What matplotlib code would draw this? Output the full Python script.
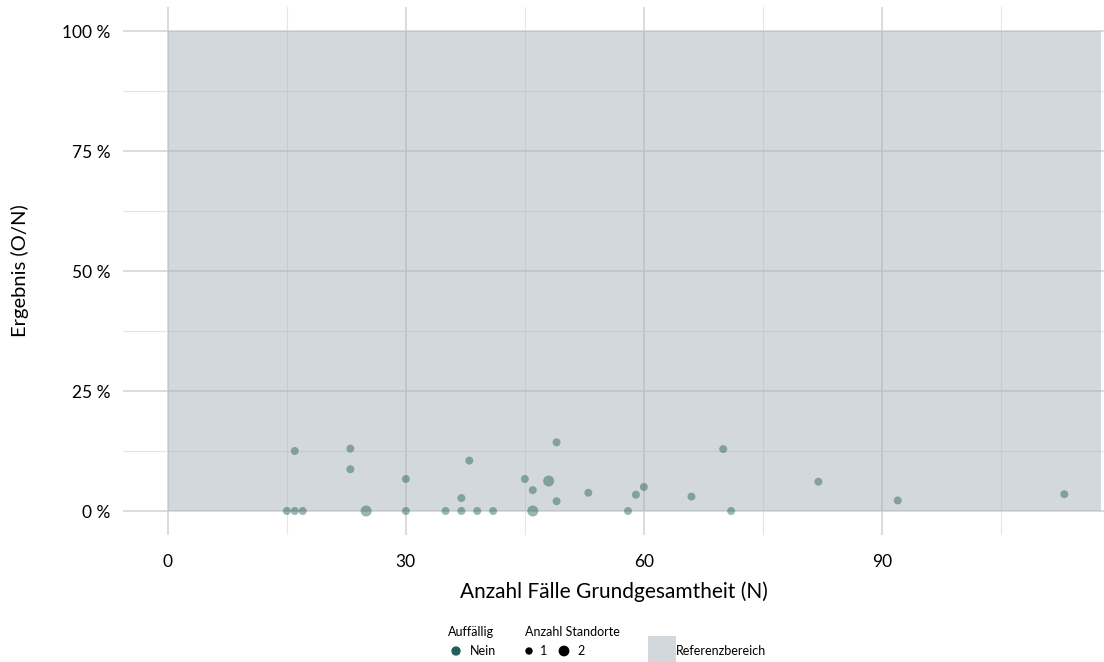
import matplotlib.pyplot as plt
import numpy as np
from matplotlib.patches import Rectangle

plt.rcParams['font.family'] = ['Lato', 'DejaVu Sans']

# data
n_cases = [15, 16, 17, 16, 23, 23, 25, 30, 30, 35, 37, 37, 38, 39, 41, 45, 46, 46,
           48, 49, 49, 53, 58, 59, 60, 66, 70, 71, 82, 92, 113]
result_pct = [0, 0, 0, 12.5, 13.0, 8.7, 0, 6.67, 0, 0, 0, 2.7, 10.5, 0, 0, 6.67, 4.35, 0,
              6.25, 14.3, 2.04, 3.8, 0, 3.4, 5.0, 3.0, 12.9, 0, 6.1, 2.2, 3.5]
standorte = [1, 1, 1, 1, 1, 1, 2, 1, 1, 1, 1, 1, 1, 1, 1, 1, 1, 2,
             2, 1, 1, 1, 1, 1, 1, 1, 1, 1, 1, 1, 1]
ref_low, ref_high = 0, 100
x_ticks = [0, 30, 60, 90]
y_ticks = [0, 25, 50, 75, 100]
y_ticklabels = ['0 %', '25 %', '50 %', '75 %', '100 %']

point_col = '#1f5e5b'
ref_col = '#a8b2ba'
W, H = 1104, 662

fig = plt.figure(figsize=(W / 100, H / 100), dpi=100)
ax = fig.add_axes([123 / W, 1 - 535 / H, 1 - 123 / W, (535 - 7) / H])

ax.set_xlim(-5.65, 118.0)
ax.set_ylim(-5, 105)
ax.set_xticks(x_ticks)
ax.set_xticks([15, 45, 75, 105], minor=True)
ax.set_yticks(y_ticks)
ax.set_yticks([12.5, 37.5, 62.5, 87.5], minor=True)
ax.set_yticklabels(y_ticklabels)
ax.grid(which='major', color='#d2d2d2', linewidth=1.1)
ax.grid(which='minor', color='#e6e6e6', linewidth=0.8)
ax.set_axisbelow(True)
ax.tick_params(which='both', length=0, labelsize=12.5, colors='black')
ax.tick_params(axis='x', pad=14)
ax.tick_params(axis='y', pad=9)
for s in ax.spines.values():
    s.set_visible(False)

ax.add_patch(Rectangle((ref_low, ref_low), 117.6, ref_high - ref_low,
                       facecolor=ref_col, alpha=0.5, edgecolor='none', zorder=2))

sizes = np.where(np.array(standorte) == 2, 63, 33)
ax.scatter(n_cases, result_pct, s=sizes, color=point_col, alpha=0.45,
           edgecolors='none', zorder=3, clip_on=False)

ax.set_xlabel('Anzahl Fälle Grundgesamtheit (N)', fontsize=15, labelpad=8)
ax.set_ylabel('Ergebnis (O/N)', fontsize=14.5, labelpad=24)

# legend drawn in pixel coordinates
lg = fig.add_axes([0, 0, 1, 1])
lg.set_xlim(0, W)
lg.set_ylim(H, 0)
lg.axis('off')
fs = 9
lg.text(448, 632, 'Auffällig', fontsize=fs, va='center')
lg.scatter([456], [651], s=45, color=point_col, edgecolors='none')
lg.text(470, 651, 'Nein', fontsize=fs, va='center')
lg.text(525, 632, 'Anzahl Standorte', fontsize=fs, va='center')
lg.scatter([529], [651], s=28, color='black', edgecolors='none')
lg.text(540, 651, '1', fontsize=fs, va='center')
lg.scatter([564], [651], s=60, color='black', edgecolors='none')
lg.text(577, 651, '2', fontsize=fs, va='center')
lg.add_patch(Rectangle((648, 636), 28, 26, facecolor=ref_col, alpha=0.5, edgecolor='none'))
lg.text(676, 651, 'Referenzbereich', fontsize=fs, va='center')

fig.savefig('out.png', dpi=100)
